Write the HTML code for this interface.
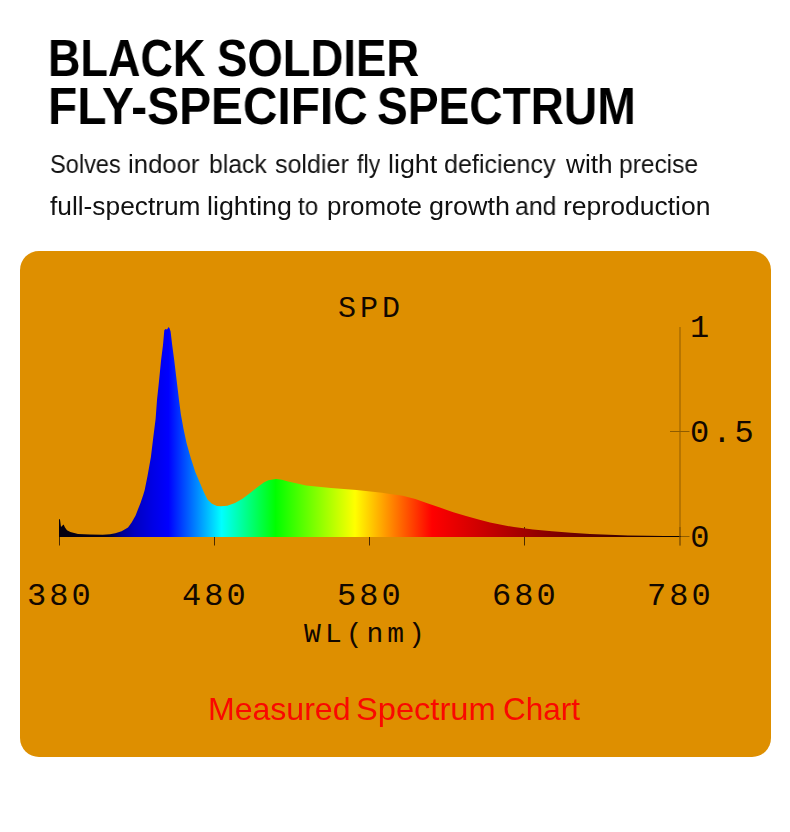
<!DOCTYPE html>
<html lang="en">
<head>
<meta charset="utf-8">
<title>Black Soldier Fly-Specific Spectrum</title>
<style>
html,body{margin:0;padding:0;background:#fff;}
body{width:790px;height:832px;position:relative;overflow:hidden;font-family:"Liberation Sans",sans-serif;}
.t{position:absolute;white-space:nowrap;transform-origin:0 0;display:block;will-change:transform;}
.card{position:absolute;left:20px;top:251px;width:751px;height:506px;border-radius:19px;background:#de8f00;overflow:hidden;}
.chart{position:absolute;left:0;top:0;display:block;}
</style>
</head>
<body>
<div class="card">
<svg class="chart" width="751" height="506" viewBox="20 251 751 506">
<defs><linearGradient id="sp" gradientUnits="userSpaceOnUse" x1="59.0" y1="0" x2="681.0" y2="0"><stop offset="0.0000" stop-color="#050010"/><stop offset="0.0627" stop-color="#040018"/><stop offset="0.0788" stop-color="#000028"/><stop offset="0.0900" stop-color="#000058"/><stop offset="0.1013" stop-color="#000092"/><stop offset="0.1206" stop-color="#0000c0"/><stop offset="0.1511" stop-color="#0000e6"/><stop offset="0.1760" stop-color="#0000ff"/><stop offset="0.2613" stop-color="#00ffff"/><stop offset="0.3482" stop-color="#00ff00"/><stop offset="0.4759" stop-color="#ffff00"/><stop offset="0.5997" stop-color="#ff0000"/><stop offset="1.0000" stop-color="#000000"/></linearGradient></defs>
<rect x="59" y="536" width="622" height="1" fill="#140c00"/>
<rect x="59" y="527" width="1" height="18.5" fill="#4a2a00"/>
<rect x="214" y="527" width="1" height="18.5" fill="#4a2a00"/>
<rect x="369" y="527" width="1" height="18.5" fill="#4a2a00"/>
<rect x="524" y="527" width="1" height="18.5" fill="#4a2a00"/>
<rect x="679.5" y="527" width="1" height="18.5" fill="#6a4000"/>
<path d="M59,537.0 L59.0,519.0 L60.0,519.6 L61.0,527.0 L62.5,525.4 L63.6,524.4 L65.0,527.6 L67.0,530.3 L70.4,532.1 L78.0,534.0 L90.0,534.5 L102.7,534.7 L110.0,534.2 L115.3,533.2 L121.6,531.2 L128.0,527.4 L131.8,522.2 L135.6,515.5 L138.0,509.2 L140.6,502.8 L143.2,495.0 L144.7,490.0 L147.5,476.0 L150.9,457.0 L153.2,438.0 L155.6,419.0 L157.0,400.0 L158.6,385.0 L161.1,360.0 L163.0,345.0 L164.3,330.3 L165.5,329.0 L167.0,329.6 L168.7,327.1 L169.6,328.5 L170.6,331.5 L172.2,345.0 L174.2,360.0 L177.2,385.0 L179.0,400.0 L180.9,414.4 L183.5,428.8 L186.6,443.3 L190.7,457.7 L195.3,472.1 L200.3,483.7 L203.9,492.3 L207.5,499.5 L211.9,503.8 L216.9,505.9 L221.0,506.3 L227.3,505.7 L235.0,503.0 L242.5,498.7 L250.1,493.1 L257.7,487.0 L263.8,482.5 L268.4,480.2 L276.0,479.0 L282.0,479.7 L288.1,481.4 L297.2,483.5 L306.0,485.6 L331.0,488.1 L356.6,490.1 L382.0,492.7 L390.0,493.9 L402.7,495.8 L415.3,499.0 L428.0,503.4 L440.6,507.8 L453.3,512.3 L466.0,516.0 L478.6,519.5 L490.0,522.4 L500.0,524.6 L514.0,527.1 L533.0,529.4 L552.0,531.3 L571.0,532.8 L590.0,533.9 L609.0,534.7 L628.0,535.4 L647.0,535.8 L681.0,536.3 L681,537.0 Z" fill="url(#sp)"/>
<rect x="679.5" y="327" width="1" height="218.5" fill="#8f5c00"/>
<rect x="670" y="431" width="19.5" height="1" fill="#8f5c00"/>
<rect x="681" y="536" width="8.5" height="1" fill="#8f5c00"/>
<g font-family="'Liberation Mono', monospace" font-size="32" fill="#120800" letter-spacing="3">
<text x="60.4" y="605.1" text-anchor="middle">380</text>
<text x="215.4" y="605.1" text-anchor="middle">480</text>
<text x="370.4" y="605.1" text-anchor="middle">580</text>
<text x="525.4" y="605.1" text-anchor="middle">680</text>
<text x="680.4" y="605.1" text-anchor="middle">780</text>
<text x="690" y="337.2">1</text>
<text x="690" y="442">0.5</text>
<text x="690.2" y="546.7">0</text>
</g>
<g font-family="'Liberation Mono', monospace" fill="#120800">
<text x="371" y="316.6" font-size="30" letter-spacing="4" text-anchor="middle">SPD</text>
<text x="366.5" y="642" font-size="28" letter-spacing="4" text-anchor="middle">WL(nm)</text>
</g>
</svg>
</div>
<span class="t" style="left:48.22px;top:26.50px;font-size:52.3px;line-height:62.76px;font-weight:700;color:#000;transform:scaleX(0.8599)">BLACK</span>
<span class="t" style="left:217.43px;top:26.50px;font-size:52.3px;line-height:62.76px;font-weight:700;color:#000;transform:scaleX(0.8696)">SOLDIER</span>
<span class="t" style="left:48.06px;top:74.50px;font-size:52.3px;line-height:62.76px;font-weight:700;color:#000;transform:scaleX(0.9141)">FLY-SPECIFIC</span>
<span class="t" style="left:376.82px;top:74.50px;font-size:52.3px;line-height:62.76px;font-weight:700;color:#000;transform:scaleX(0.8814)">SPECTRUM</span>
<span class="t" style="left:49.69px;top:149.29px;font-size:25.9px;line-height:31.08px;font-weight:400;color:#111;transform:scaleX(0.9106)">Solves</span>
<span class="t" style="left:127.76px;top:149.29px;font-size:25.9px;line-height:31.08px;font-weight:400;color:#111;transform:scaleX(0.9930)">indoor</span>
<span class="t" style="left:208.65px;top:149.29px;font-size:25.9px;line-height:31.08px;font-weight:400;color:#111;transform:scaleX(0.9547)">black</span>
<span class="t" style="left:274.60px;top:149.29px;font-size:25.9px;line-height:31.08px;font-weight:400;color:#111;transform:scaleX(0.9674)">soldier</span>
<span class="t" style="left:356.70px;top:149.29px;font-size:25.9px;line-height:31.08px;font-weight:400;color:#111;transform:scaleX(0.8980)">fly</span>
<span class="t" style="left:388.16px;top:149.29px;font-size:25.9px;line-height:31.08px;font-weight:400;color:#111;transform:scaleX(1.0367)">light</span>
<span class="t" style="left:444.43px;top:149.29px;font-size:25.9px;line-height:31.08px;font-weight:400;color:#111;transform:scaleX(0.9686)">deficiency</span>
<span class="t" style="left:566.11px;top:149.29px;font-size:25.9px;line-height:31.08px;font-weight:400;color:#111;transform:scaleX(1.0122)">with</span>
<span class="t" style="left:619.45px;top:149.29px;font-size:25.9px;line-height:31.08px;font-weight:400;color:#111;transform:scaleX(0.9481)">precise</span>
<span class="t" style="left:50.10px;top:191.29px;font-size:25.9px;line-height:31.08px;font-weight:400;color:#111;transform:scaleX(1.0155)">full-spectrum</span>
<span class="t" style="left:206.97px;top:191.29px;font-size:25.9px;line-height:31.08px;font-weight:400;color:#111;transform:scaleX(1.0346)">lighting</span>
<span class="t" style="left:298.00px;top:191.29px;font-size:25.9px;line-height:31.08px;font-weight:400;color:#111;transform:scaleX(0.9319)">to</span>
<span class="t" style="left:326.50px;top:191.29px;font-size:25.9px;line-height:31.08px;font-weight:400;color:#111;transform:scaleX(0.9991)">promote</span>
<span class="t" style="left:428.56px;top:191.29px;font-size:25.9px;line-height:31.08px;font-weight:400;color:#111;transform:scaleX(1.0410)">growth</span>
<span class="t" style="left:514.94px;top:191.29px;font-size:25.9px;line-height:31.08px;font-weight:400;color:#111;transform:scaleX(0.9584)">and</span>
<span class="t" style="left:563.48px;top:191.29px;font-size:25.9px;line-height:31.08px;font-weight:400;color:#111;transform:scaleX(1.0245)">reproduction</span>
<span class="t" style="left:207.60px;top:691.03px;font-size:30.5px;line-height:36.6px;font-weight:400;color:#fa0800;transform:scaleX(1.0504)">Measured</span>
<span class="t" style="left:355.93px;top:691.03px;font-size:30.5px;line-height:36.6px;font-weight:400;color:#fa0800;transform:scaleX(1.0694)">Spectrum</span>
<span class="t" style="left:502.87px;top:691.03px;font-size:30.5px;line-height:36.6px;font-weight:400;color:#fa0800;transform:scaleX(1.0309)">Chart</span>
</body>
</html>
